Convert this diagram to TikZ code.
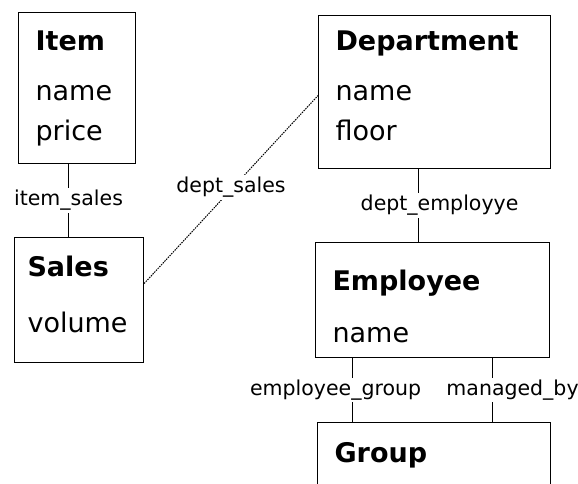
\documentclass[tikz,border=0pt]{standalone}
\usepackage{fontspec}
\setmainfont{DejaVu Sans}

\begin{document}
\begin{tikzpicture}[x=1pt,y=-1pt,
  entity/.style={rectangle,draw,line width=1.1pt,anchor=north west,align=left,
    inner xsep=17pt,inner ysep=0pt,font=\fontsize{27}{40}\selectfont},
  rel/.style={fill=white,inner sep=2pt,font=\fontsize{20.5}{24}\selectfont},
  link/.style={line width=1pt}]

 \useasboundingbox (0,0) rectangle (578,483);
 \clip (0,0) rectangle (578,483);

 \node[entity,text width=83pt,text height=38pt,text depth=113pt] (item) at (18,12)
   {\textbf{Item}\\[10pt]name\\price};
 \node[entity,inner xsep=13pt,text width=103pt,text height=39pt,text depth=86pt] (sales) at (14,237)
   {\textbf{Sales}\\[16pt]volume};
 \node[entity,text width=198pt,text height=35pt,text depth=118pt] (dept) at (318,15)
   {\textbf{Department}\\[10pt]name\\floor};
 \node[entity,text width=200pt,text height=48pt,text depth=67pt] (employee) at (315,242)
   {\textbf{Employee}\\[12pt]name};
 \node[entity,text width=199pt,text height=40pt,text depth=100pt] (group) at (317,422)
   {\textbf{Group}};

 \draw[link] ([xshift=-8.5pt]item.south) -- node[rel] {item\_sales} ([xshift=-10.5pt]sales.north);
 \draw[link,dash pattern=on 1.5pt off 1pt] ([yshift=16.5pt]sales.east) -- node[rel,yshift=2pt] {dept\_sales} ([yshift=-3.5pt]dept.west);
 \draw[link] ([xshift=-16pt]dept.south) -- node[rel,xshift=21pt] {dept\_employye} ([xshift=-14pt]employee.north);
 \draw[link] ([xshift=-80pt]employee.south) -- node[rel,xshift=-17pt] {employee\_group} ([xshift=-81.5pt]group.north);
 \draw[link] ([xshift=60pt]employee.south) -- node[rel,xshift=20pt] {managed\_by} ([xshift=58.5pt]group.north);

\end{tikzpicture}
\end{document}
